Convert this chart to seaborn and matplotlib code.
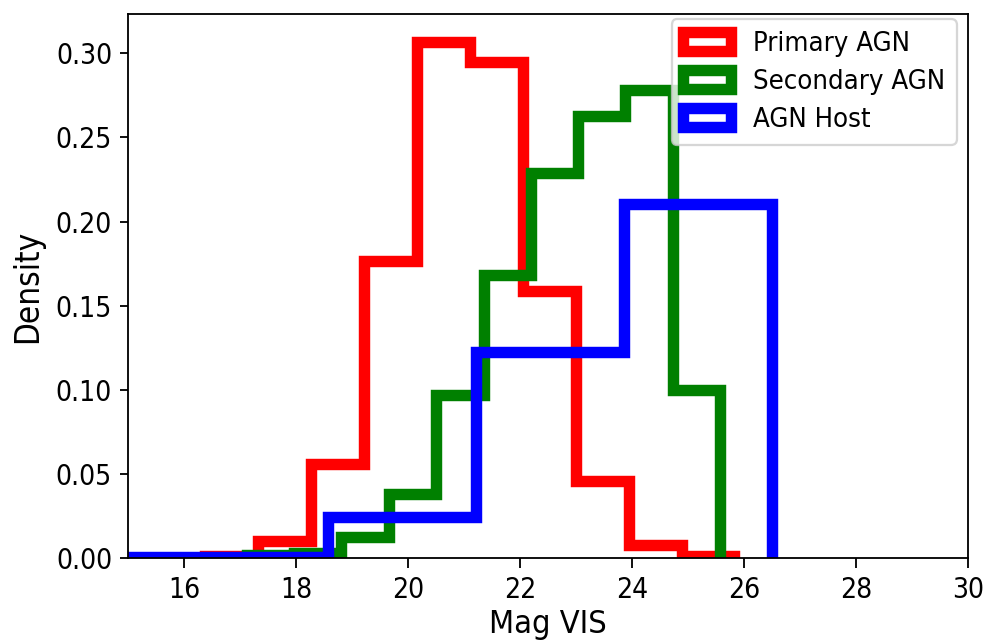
import matplotlib
matplotlib.use("Agg")
import matplotlib.pyplot as plt
from matplotlib.patches import Patch
import numpy as np
import pandas as pd
import seaborn as sns

# Normalised histograms of VIS magnitude (bin edges and density per bin)
primary_edges = [16.37, 17.32, 18.26, 19.21, 20.16, 21.10, 22.05, 23.00, 23.94, 24.89, 25.83]
primary_density = [0.001, 0.010, 0.056, 0.1765, 0.3066, 0.2947, 0.159, 0.046, 0.0075, 0.001]

secondary_edges = [17.12, 17.97, 18.81, 19.66, 20.50, 21.35, 22.19, 23.04, 23.88, 24.73, 25.57]
secondary_density = [0.002, 0.003, 0.0125, 0.038, 0.097, 0.168, 0.229, 0.263, 0.278, 0.100]

host_edges = [13.30, 15.94, 18.58, 21.22, 23.86, 26.50]
host_density = [0.0003, 0.0005, 0.0245, 0.1224, 0.2107]

series = [
    ("Primary AGN", primary_edges, primary_density, "red"),
    ("Secondary AGN", secondary_edges, secondary_density, "green"),
    ("AGN Host", host_edges, host_density, "blue"),
]

x_ticks = [16, 18, 20, 22, 24, 26, 28, 30]
y_ticks = [0.00, 0.05, 0.10, 0.15, 0.20, 0.25, 0.30]

plt.rcParams["font.family"] = ["DejaVu Sans"]
plt.rcParams["font.stretch"] = "condensed"

DPI = 164.5
fig = plt.figure(figsize=(987 / DPI, 643 / DPI), dpi=DPI)
ax = fig.add_axes([0.1297, 0.1322, 0.851, 0.8456])

LW = 5
eps = 1e-6
handles = []
for label, edges, dens, color in series:
    edges = np.asarray(edges, dtype=float)
    df = pd.DataFrame({"mag": (edges[:-1] + edges[1:]) / 2, "w": dens})
    # empty, vanishingly thin bins at both ends so the outline drops to zero
    bins = [edges[0] - eps] + edges.tolist() + [edges[-1] + eps]
    sns.histplot(data=df, x="mag", weights="w", bins=bins, stat="count",
                 element="step", fill=False, color=color, linewidth=LW,
                 solid_joinstyle="miter", solid_capstyle="butt", ax=ax)
    handles.append(Patch(facecolor="white", edgecolor=color, linewidth=LW, label=label))

ax.set_xlim(15, 30)
ax.set_ylim(0, 0.3232)
ax.set_xticks(x_ticks)
ax.set_yticks(y_ticks)
ax.set_yticklabels([f"{v:.2f}" for v in y_ticks])
ax.tick_params(labelsize=12.3)
ax.tick_params(axis="x", length=4.4)
ax.set_xlabel("Mag VIS", fontsize=14.2, labelpad=2)
ax.set_ylabel("Density", fontsize=14.5, labelpad=5)
ax.legend(handles=handles, loc="upper right", fontsize=12,
          bbox_to_anchor=(1 - 11 / 840, 1 - 5 / 544), borderaxespad=0,
          handlelength=1.75, labelspacing=0.45, borderpad=0.42)

fig.savefig("out.png", dpi=DPI)
